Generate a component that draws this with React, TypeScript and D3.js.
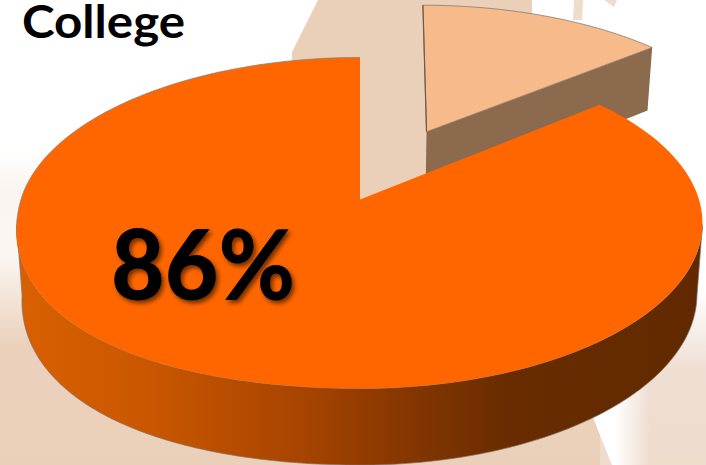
import React from "react";
import * as d3 from "d3";

const W = 706;
const H = 465;
const title = "College";
const shareLabels = ["Other", "College"];
const shareValues = [14, 86];
const mainLabel = "86%";
const explodeDistance = 0.49;

// Tilted-disc projection
const R = 339;
const CX = 360;
const CY = 199.5;
const A = 162.2;
const B = -0.142;

type P = [number, number];
function project(u: number, v: number, h = 0): P {
  const k = 1 + B * v;
  const x = CX + (R * u) / k;
  const y = CY + (A * v) / k;
  if (!h) return [x, y];
  const depth = 70 + 6.5 * v;
  return [CX + (x - CX) * (1 - 0.016 * h), y + depth * h];
}

const arcs = d3.pie<number>().sort(null)(shareValues);
const small = arcs[0];
const main = arcs[1];
const line = d3.line<P>();

function angles(a0: number, a1: number): number[] {
  return d3.range(0, 161).map((i) => a0 + ((a1 - a0) * i) / 160);
}
// The reference's disc is slightly fuller at its lower left.
function bulge(t: number): number {
  const s = Math.sin(t);
  const c = Math.cos(t);
  return s < 0 && c < 0 ? 1 + 0.03 * Math.pow(Math.sin(2 * t), 2) : 1;
}
function rim(a0: number, a1: number, ou = 0, ov = 0, h = 0): P[] {
  return angles(a0, a1).map((t) =>
    project(Math.sin(t) * bulge(t) + ou, -Math.cos(t) * bulge(t) + ov, h)
  );
}

const mid = (small.startAngle + small.endAngle) / 2;
const ou = Math.sin(mid) * explodeDistance;
const ov = -Math.cos(mid) * explodeDistance;
const rimShift = 0.015;

const mainAngles = angles(main.startAngle, main.endAngle);
const xOf = (t: number) => project(Math.sin(t), -Math.cos(t))[0];
const rightAngle = mainAngles[d3.greatestIndex(mainAngles, xOf)];
const leftAngle = mainAngles[d3.leastIndex(mainAngles, xOf)];

const mainTop = [project(0, 0), ...rim(main.startAngle, main.endAngle)];
const mainWall = [
  ...rim(rightAngle, leftAngle),
  ...rim(rightAngle, leftAngle, 0, 0, 1).reverse(),
];
const smallTop = [
  project(ou, ov),
  ...rim(small.startAngle, small.endAngle, ou + rimShift, ov),
];
const tip = (h: number) =>
  project(Math.sin(small.endAngle) + ou + rimShift, -Math.cos(small.endAngle) + ov, h);
const smallWall = [project(ou, ov), tip(0), tip(1), project(ou, ov, 1)];
const smallLeftEdge = [project(ou, ov), rim(small.startAngle, small.endAngle, ou + rimShift, ov)[0]];

const wallStops: [number, string][] = [
  [0, "#d96000"],
  [0.2, "#c95600"],
  [0.42, "#a64400"],
  [0.55, "#8a3800"],
  [0.72, "#682c00"],
  [1, "#622900"],
];

export default function App() {
  const closed = (p: P[]) => (line(p) ?? "") + "Z";
  return (
    <svg
      width={W}
      height={H}
      viewBox={`0 0 ${W} ${H}`}
      style={{ position: "absolute", left: 0, top: 0, background: "#fff" }}
    >
      <defs>
        <linearGradient id="wall" gradientUnits="userSpaceOnUse" x1={18} x2={698} y1={0} y2={0}>
          {wallStops.map(([o, c]) => (
            <stop key={o} offset={o} stopColor={c} />
          ))}
        </linearGradient>
        <linearGradient id="bgLeft" gradientUnits="userSpaceOnUse" x1={0} x2={0} y1={150} y2={465}>
          <stop offset={0} stopColor="#fff" />
          <stop offset={0.12} stopColor="#faf5f0" />
          <stop offset={0.33} stopColor="#fbf6f2" />
          <stop offset={0.48} stopColor="#f3e3d6" />
          <stop offset={0.62} stopColor="#ebd1bc" />
          <stop offset={1} stopColor="#ebd0b9" />
        </linearGradient>
        <linearGradient id="bgRight" gradientUnits="userSpaceOnUse" x1={0} x2={0} y1={290} y2={465}>
          <stop offset={0} stopColor="#fff" />
          <stop offset={0.45} stopColor="#efdfd3" />
          <stop offset={1} stopColor="#eedccd" />
        </linearGradient>
        <linearGradient id="gap" gradientUnits="userSpaceOnUse" x1={615} x2={650} y1={0} y2={0}>
          <stop offset={0} stopColor="#fff" />
          <stop offset={1} stopColor="#fff" stopOpacity={0} />
        </linearGradient>
        <filter id="shadow" x="-10%" y="-10%" width="125%" height="125%">
          <feDropShadow dx={2.5} dy={3} stdDeviation={2} floodColor="#000" floodOpacity={0.55} />
        </filter>
      </defs>

      {/* Background */}
      <rect x={0} y={150} width={600} height={315} fill="url(#bgLeft)" />
      <rect x={600} y={290} width={106} height={175} fill="url(#bgRight)" />
      <path d="M588,405L650,370L650,465L612,465Z" fill="url(#gap)" />
      <path d="M318,0L532,0L532,30L500,200L340,200L292,80L292,52Z" fill="#ebd0b9" />
      <path d="M574,0L583,0L582,20L573,20Z" fill="#f0dccb" />
      <path d="M604,0L617,0L614,7Z" fill="#f0dccb" />

      {/* Detached slice */}
      <path d={closed(smallWall)} fill="#8b6a4e" />
      <path d={closed(smallTop)} fill="#f7bb8b" stroke="#8a7466" strokeWidth={0.8} />
      <path d={line(smallLeftEdge) ?? ""} fill="none" stroke="#6e5a4a" strokeWidth={1.2} />

      {/* Main slice */}
      <path d={closed(mainWall)} fill="url(#wall)" stroke="#80706a" strokeWidth={0.7} />
      <path d={closed(mainTop)} fill="#ff6600" />
      <path
        d={line(rim(leftAngle, main.endAngle)) ?? ""}
        fill="none"
        stroke="#8f7f76"
        strokeWidth={0.8}
      />

      {/* Text */}
      <text
        x={22}
        y={38}
        fontFamily="Lato, sans-serif"
        fontWeight={700}
        fontSize={45}
        textLength={163}
        lengthAdjust="spacingAndGlyphs"
        fill="#000"
      >
        {title}
      </text>
      <text
        x={111}
        y={300}
        fontFamily="Lato, sans-serif"
        fontWeight={900}
        fontSize={97}
        textLength={184}
        lengthAdjust="spacingAndGlyphs"
        fill="#000"
        filter="url(#shadow)"
        aria-label={shareLabels[1]}
      >
        {mainLabel}
      </text>
    </svg>
  );
}
